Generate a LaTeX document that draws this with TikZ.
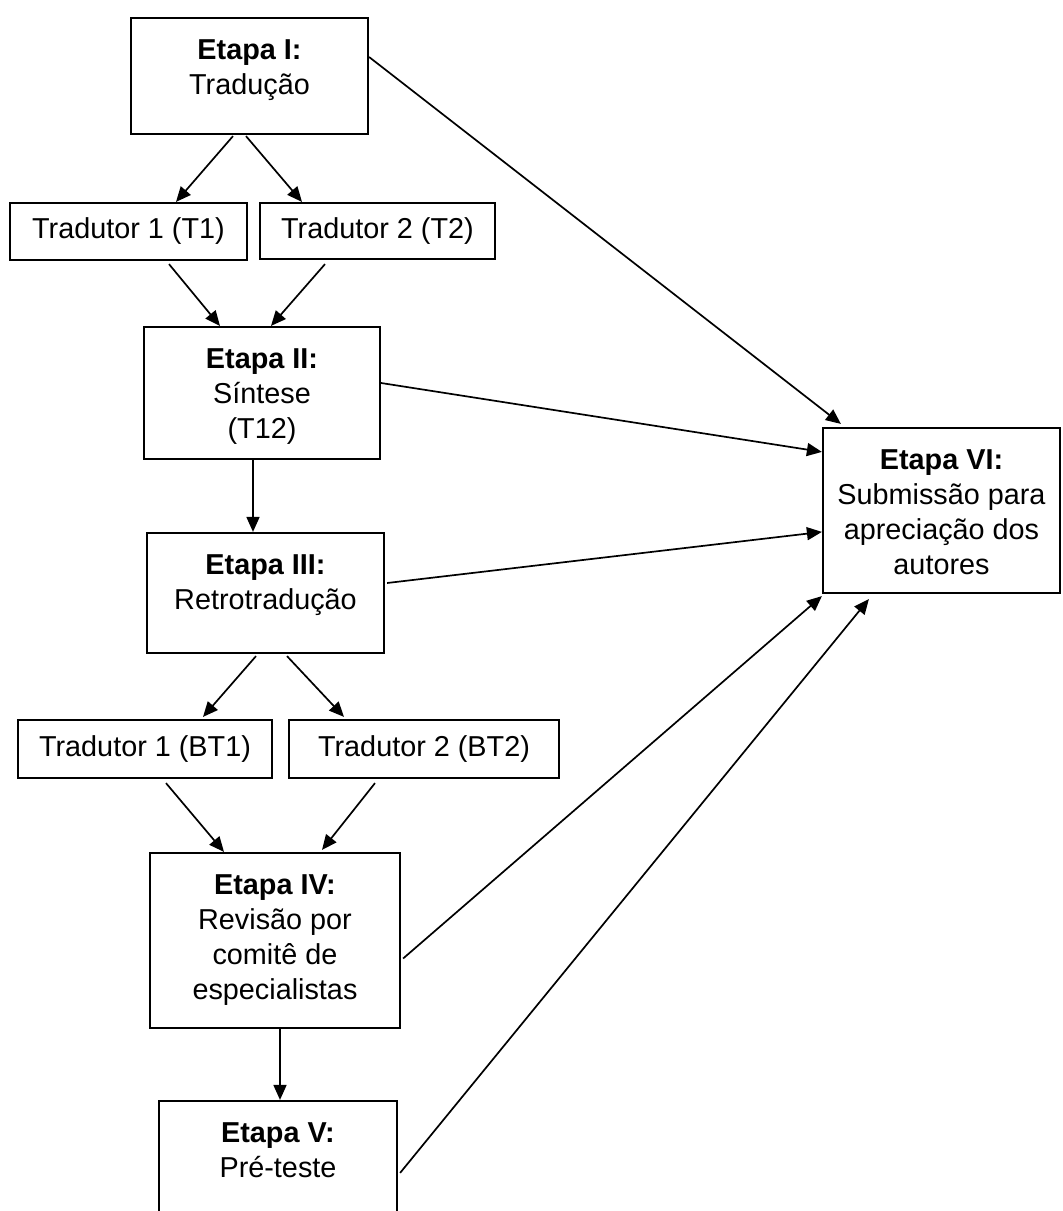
\documentclass[tikz,border=0pt]{standalone}
\usepackage{fontspec}
\setmainfont{Liberation Sans}
\usetikzlibrary{arrows.meta,calc}
\newcommand{\stg}[3]{\parbox[c][\dimexpr#2pt/2\relax][t]{\dimexpr#1pt/2\relax}{\centering\rule{0pt}{20.5pt}#3}}
\begin{document}
\begin{tikzpicture}[x=0.5pt,y=-0.5pt,
  every node/.style={font=\fontsize{14.4pt}{17.6pt}\selectfont},
  box/.style={draw=black, line width=1.1pt, inner sep=0pt, fill=white},
  arr/.style={-{Triangle[length=7.5pt,width=6.5pt]}, line width=0.85pt},
]
\useasboundingbox (0,0) rectangle (1063,1211);
\clip (0,0) rectangle (1063,1211);

% stage boxes
\node[box] (e1) at (249.5,76) {\stg{237}{116}{\textbf{Etapa I:}\\Tradução}};
\node[box] (e2) at (262,393) {\stg{236}{132}{\textbf{Etapa II:}\\Síntese\\(T12)}};
\node[box] (e3) at (265.5,593) {\stg{237}{120}{\textbf{Etapa III:}\\Retrotradução}};
\node[box] (e4) at (275,940.5) {\stg{250}{175}{\textbf{Etapa IV:}\\Revisão por\\comitê de\\especialistas}};
\node[box] (e5) at (278,1163) {\stg{238}{124}{\textbf{Etapa V:}\\Pré-teste}};
\node[box] (e6) at (941.5,510.5) {\stg{237}{165}{\textbf{Etapa VI:}\\Submissão para\\apreciação dos\\autores}};

% translator boxes
\node[box, minimum width=118.5pt, minimum height=28.5pt] (t1) at (128.5,231.5) {Tradutor 1 (T1)};
\node[box, minimum width=117.5pt, minimum height=28pt] (t2) at (377.5,231) {Tradutor 2 (T2)};
\node[box, minimum width=127pt, minimum height=29pt] (b1) at (145,749) {Tradutor 1 (BT1)};
\node[box, minimum width=135pt, minimum height=29pt] (b2) at (424,749) {Tradutor 2 (BT2)};

% left column connectors
\draw[arr] ($(e1.south)+(-16.5,1)$) -- ($(t1.north)+(47.5,0)$);
\draw[arr] ($(e1.south)+(-3.5,1)$) -- ($(t2.north)+(-75.5,0)$);
\draw[arr] ($(t1.south)+(40.5,3)$) -- ($(e2.north)+(-42,0)$);
\draw[arr] ($(t2.south)+(-52.5,4)$) -- ($(e2.north)+(9,0)$);
\draw[arr] ($(e2.south)+(-9,0)$) -- ($(e3.north)+(-12.5,0)$);
\draw[arr] ($(e3.south)+(-9.5,2)$) -- ($(b1.north)+(58,-2)$);
\draw[arr] ($(e3.south)+(21.5,2)$) -- ($(b2.north)+(-80,-2)$);
\draw[arr] ($(b1.south)+(21,4)$) -- ($(e4.north)+(-51,0)$);
\draw[arr] ($(b2.south)+(-49,4)$) -- ($(e4.north)+(47,-2)$);
\draw[arr] ($(e4.south)+(5,0)$) -- ($(e5.north)+(2,0)$);

% connectors to Etapa VI
\draw[arr] ($(e1.east)+(0,-19)$) -- ($(e6.north west)+(19,-3)$);
\draw[arr] ($(e2.east)+(0,-10)$) -- ($(e6.north west)+(0,25)$);
\draw[arr] ($(e3.east)+(2,-10)$) -- ($(e6.north west)+(0,105)$);
\draw[arr] ($(e4.east)+(2,18)$) -- ($(e6.south west)+(0,2)$);
\draw[arr] ($(e5.north east)+(2,73)$) -- ($(e6.south west)+(47,5)$);
\end{tikzpicture}
\end{document}
